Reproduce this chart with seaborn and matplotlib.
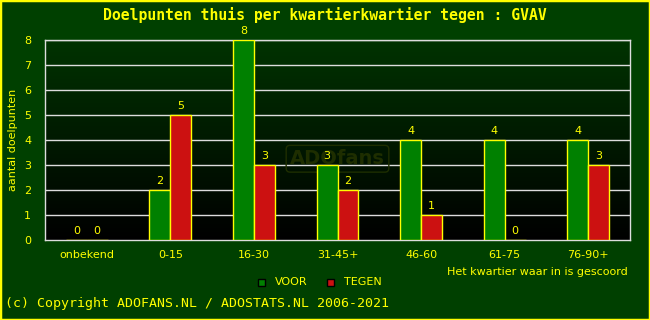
import numpy as np
import pandas as pd
import matplotlib
matplotlib.use("Agg")
import matplotlib.pyplot as plt
import seaborn as sns
from matplotlib.patches import Rectangle
from matplotlib.colors import LinearSegmentedColormap

categories = ["onbekend", "0-15", "16-30", "31-45+", "46-60", "61-75", "76-90+"]
voor = [0, 2, 8, 3, 4, 4, 4]
tegen = [0, 5, 3, 2, 1, 0, 3]
series_names = ["VOOR", "TEGEN"]
yticks = [0, 1, 2, 3, 4, 5, 6, 7, 8]

df = pd.DataFrame({
    "kwartier": categories * 2,
    "doelpunten": voor + tegen,
    "serie": [series_names[0]] * len(categories) + [series_names[1]] * len(categories),
})

BG = "#004000"
YEL = "#ffff00"
GREEN = "#008000"
RED = "#cc1111"

sns.set_theme(style="white")
plt.rcParams["font.family"] = ["DejaVu Sans"]

fig = plt.figure(figsize=(6.5, 3.2), dpi=100, facecolor=BG)
fig.patches.append(Rectangle((0, 0), 1, 1, transform=fig.transFigure, fill=False,
                             edgecolor=YEL, linewidth=2.5, zorder=10))
ax = fig.add_axes([45 / 650, 80 / 320, 585 / 650, 200 / 320])

sns.barplot(data=df, x="kwartier", y="doelpunten", hue="serie", order=categories,
            hue_order=series_names, palette=[GREEN, RED], width=0.5, dodge=True,
            edgecolor=YEL, linewidth=1.0, saturation=1, legend=False, ax=ax, zorder=3)

ax.set_xlim(-0.5, len(categories) - 0.5)
ax.set_ylim(0, 8)
grad = np.linspace(0, 1, 256).reshape(-1, 1)
cmap = LinearSegmentedColormap.from_list("g", ["#000000", "#003300"])
ax.imshow(grad, aspect="auto", cmap=cmap, origin="lower",
          extent=[-0.5, len(categories) - 0.5, 0, 8], zorder=0)
ax.set_facecolor("black")

for y in yticks[1:]:
    ax.axhline(y, color="#dddddd", linewidth=1.0, zorder=1)

for s in ax.spines.values():
    s.set_color("#dddddd")
    s.set_linewidth(1.0)

ax.set_yticks(yticks)
ax.set_yticklabels([str(v) for v in yticks], color=YEL, fontsize=8)
ax.tick_params(axis="y", length=0, pad=10)
ax.tick_params(axis="x", length=0, pad=7, colors=YEL, labelsize=8)
for lbl in ax.get_xticklabels():
    lbl.set_color(YEL)
ax.set_xlabel("")
ax.set_ylabel("")

for cont in ax.containers:
    ax.bar_label(cont, labels=[str(int(v)) for v in cont.datavalues], color=YEL,
                 fontsize=8, padding=3, zorder=5)

# faint watermark behind the bars
ax.text(3.0, 3.25, "ADOfans", color="#1e2e00", fontsize=14, fontweight="bold",
        ha="center", va="center", zorder=2,
        bbox=dict(boxstyle="round,pad=0.2", fc="none", ec="#1e2e00", lw=1.0))

fig.text(0.5, 1 - 15 / 320, "Doelpunten thuis per kwartierkwartier tegen : GVAV",
         color=YEL, ha="center", va="center", family="DejaVu Sans Mono", fontsize=10.6,
         fontweight="bold")
fig.text(13 / 650, 1 - 140 / 320, "aantal doelpunten", rotation=90, color=YEL,
         ha="center", va="center", fontsize=8)
fig.text(628 / 650, 1 - 272 / 320, "Het kwartier waar in is gescoord", color=YEL,
         ha="right", va="center", fontsize=8)
fig.text(5 / 650, 1 - 303 / 320, "(c) Copyright ADOFANS.NL / ADOSTATS.NL 2006-2021",
         color=YEL, ha="left", va="center", family="DejaVu Sans Mono", fontsize=9.5)

for x0, col, name in [(258, GREEN, "VOOR"), (327, RED, "TEGEN")]:
    fig.patches.append(Rectangle((x0 / 650, 1 - 286 / 320), 7 / 650, 7 / 320,
                                 transform=fig.transFigure, facecolor=col,
                                 edgecolor="black", linewidth=1.0))
    fig.text((x0 + 17) / 650, 1 - 282 / 320, name, color=YEL, ha="left",
             va="center", fontsize=8)

fig.savefig("out.png", dpi=100, facecolor=BG)
